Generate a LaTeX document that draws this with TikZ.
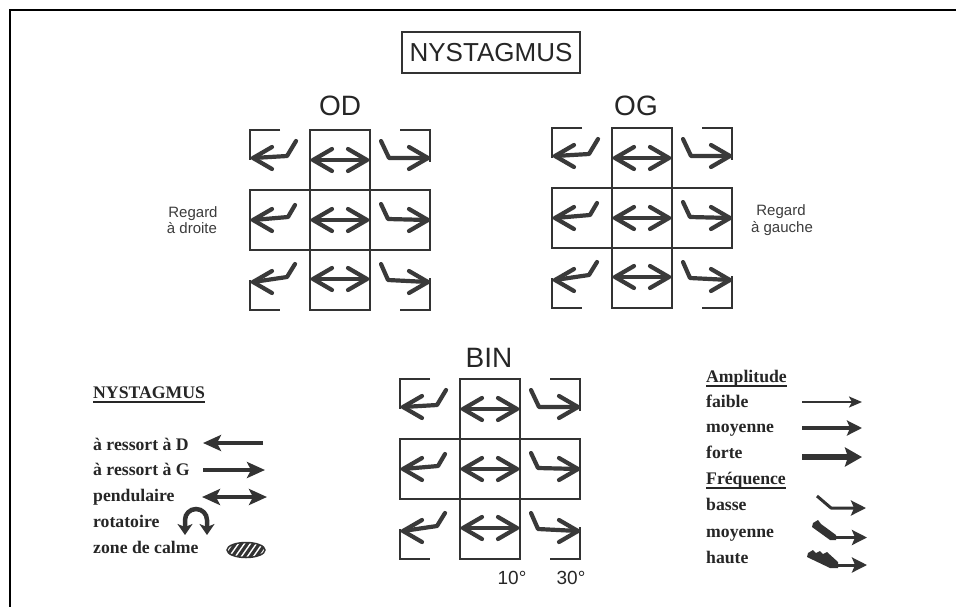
\documentclass[tikz,border=0pt]{standalone}
\usepackage{fontspec}
\setmainfont{Liberation Serif}
\newfontfamily\arialf{Liberation Sans}
\usetikzlibrary{arrows.meta}
\definecolor{ink}{HTML}{333333}
\definecolor{arr}{HTML}{3A3A3A}
\definecolor{txt}{HTML}{262626}
\definecolor{lbl}{HTML}{3C3C3C}
\tikzset{
  gline/.style={draw=ink, line width=2pt},
  garrow/.style={draw=arr, line width=4.2pt, line cap=round, line join=round},
  legtxt/.style={font=\fontsize{17.7}{20}\selectfont\bfseries, text=txt, inner sep=0pt, anchor=base west},
  bigsans/.style={font=\arialf\fontsize{28}{32}\selectfont, text=txt, inner sep=0pt, anchor=base},
  smallsans/.style={font=\arialf\fontsize{15}{18}\selectfont, text=lbl, inner sep=0pt, anchor=base},
  degsans/.style={font=\arialf\fontsize{19}{22}\selectfont, text=txt, inner sep=0pt, anchor=base},
  legarrow/.style={draw=ink, line width=4pt},
  uline/.style={draw=txt, line width=1.1pt}
}
% left-pointing kinked arrow: tip; kink; tail
\newcommand\lk[6]{%
  \draw[garrow] (#5,#6) -- (#3,#4) -- (#1,#2);
  \draw[garrow] ({#1+19},{#2-11}) -- (#1,#2) -- ({#1+19},{#2+11});}
% right-pointing kinked arrow: tail; kink; tip
\newcommand\rk[6]{%
  \draw[garrow] (#1,#2) -- (#3,#4) -- (#5,#6);
  \draw[garrow] ({#5-19},{#6-11}) -- (#5,#6) -- ({#5-19},{#6+11});}
% double arrow: x1, x2, y
\newcommand\db[3]{%
  \draw[garrow] (#1,#3) -- (#2,#3);
  \draw[garrow] ({#1+19},{#3-11}) -- (#1,#3) -- ({#1+19},{#3+11});
  \draw[garrow] ({#2-19},{#3-11}) -- (#2,#3) -- ({#2-19},{#3+11});}
\newcommand\nysgrid{%
  \draw[gline] (60,0) rectangle (120,180);
  \draw[gline] (0,60) rectangle (180,120);
  \draw[gline] (30,0) -- (0,0) -- (0,30);
  \draw[gline] (150,0) -- (180,0) -- (180,32);
  \draw[gline] (0,150) -- (0,180) -- (30,180);
  \draw[gline] (180,148) -- (180,180) -- (150,180);
  \lk{3}{28}{37}{26}{46}{11}
  \db{63}{117}{30}
  \rk{131}{11}{139}{28}{178}{28}
  \lk{3}{90}{38}{87}{45}{75}
  \db{63}{117}{90}
  \rk{131}{74}{138}{89}{178}{90}
  \lk{3}{152}{37}{147}{45}{134}
  \db{63}{117}{149}
  \rk{131}{134}{138}{150}{178}{152}}
\begin{document}
\begin{tikzpicture}[x=1pt,y=-1pt]
\useasboundingbox (0,0) rectangle (956,606);
\fill[white] (0,0) rectangle (956,606);
% frame
\draw[black, line width=2.5pt] (10,640) -- (10,10) -- (990,10);
% title
\node[draw=ink, line width=1.6pt, minimum width=178pt, minimum height=41pt, inner sep=0pt,
      font=\arialf\fontsize{26}{30}\selectfont, text=txt] (title) at (491,52.5) {NYSTAGMUS};
% grid titles
\node[bigsans] (od) at (340,115) {OD};
\node[bigsans] (og) at (636,115) {OG};
\node[bigsans] (bin) at (489,367) {BIN};
% grids
\begin{scope}[shift={(250,130)}] \nysgrid \end{scope}
\begin{scope}[shift={(552,128)}] \nysgrid \end{scope}
\begin{scope}[shift={(400,379)}] \nysgrid \end{scope}
% side labels
\node[smallsans] (rd1) at (193,217) {Regard};
\node[smallsans] (rd2) at (192,233) {à droite};
\node[smallsans] (rg1) at (781,215) {Regard};
\node[smallsans] (rg2) at (782,232) {à gauche};
% degrees
\node[degsans] (d10) at (512,584) {10°};
\node[degsans] (d30) at (571,584) {30°};
% left legend
\node[legtxt] (lnys) at (93,398) {NYSTAGMUS};
\draw[uline] ([yshift=-4pt]lnys.base west) -- ([yshift=-4pt]lnys.base east);
\node[legtxt] (l1) at (93,450) {à ressort à D};
\node[legtxt] (l2) at (93,475) {à ressort à G};
\node[legtxt] (l3) at (93,501) {pendulaire};
\node[legtxt] (l4) at (93,527) {rotatoire};
\node[legtxt] (l5) at (93,553) {zone de calme};
\draw[legarrow, -{Stealth[length=18pt,width=16pt,inset=4pt]}] (263,443) -- (203,443);
\draw[legarrow, -{Stealth[length=18pt,width=16pt,inset=4pt]}] (203,470) -- (265,470);
\draw[legarrow, {Stealth[length=18pt,width=16pt,inset=4pt]}-{Stealth[length=18pt,width=16pt,inset=4pt]}] (202,497) -- (267,497);
\draw[legarrow, line width=4.5pt, {Stealth[length=11pt,width=15pt,inset=3pt]}-{Stealth[length=11pt,width=15pt,inset=3pt]}]
  (185,535) -- (185,520) arc[start angle=180, end angle=360, radius=11] -- (207,535);
\begin{scope}
  \clip (246,550) ellipse [x radius=19, y radius=7.5];
  \fill[ink] (225,540) rectangle (267,560);
  \foreach \i in {-24,-18,...,24} \draw[white, line width=1.4pt] ({246+\i-7},560) -- ({246+\i+7},540);
\end{scope}
\draw[ink, line width=1.5pt] (246,550) ellipse [x radius=19, y radius=7.5];
% right legend
\node[legtxt] (amp) at (706,382) {Amplitude};
\draw[uline] ([yshift=-4pt]amp.base west) -- ([yshift=-4pt]amp.base east);
\node[legtxt] (fa) at (706,407) {faible};
\node[legtxt] (mo1) at (706,432) {moyenne};
\node[legtxt] (fo) at (706,458) {forte};
\node[legtxt] (fre) at (706,484) {Fréquence};
\draw[uline] ([yshift=-4pt]fre.base west) -- ([yshift=-4pt]fre.base east);
\node[legtxt] (ba) at (706,510) {basse};
\node[legtxt] (mo2) at (706,537) {moyenne};
\node[legtxt] (ha) at (706,563) {haute};
\draw[ink, line width=2pt, -{Stealth[length=13pt,width=11pt,inset=3pt]}] (802,402) -- (862,402);
\draw[ink, line width=3.5pt, -{Stealth[length=15pt,width=15pt,inset=3pt]}] (802,428) -- (862,428);
\draw[ink, line width=5.5pt, -{Stealth[length=17pt,width=19pt,inset=3pt]}] (802,457) -- (862,457);
\draw[ink, line width=3pt, line join=round, -{Stealth[length=15pt,width=15pt,inset=3pt]}] (817,496) -- (831,508) -- (866,508);
\fill[ink] (813,523) -- (818,520) -- (821,524) -- (836,535) -- (836,540) -- (830,540) -- (812,527) -- cycle;
\draw[ink, line width=3pt, -{Stealth[length=15pt,width=15pt,inset=3pt]}] (832,537.5) -- (867,537.5);
\fill[ink] (808,553) -- (813,550) -- (816,553) -- (820,551) -- (823,554) -- (827,552) -- (838,562) -- (838,568) -- (830,568) -- (807,557) -- cycle;
\draw[ink, line width=3pt, -{Stealth[length=15pt,width=15pt,inset=3pt]}] (834,565) -- (867,565);
\end{tikzpicture}
\end{document}
